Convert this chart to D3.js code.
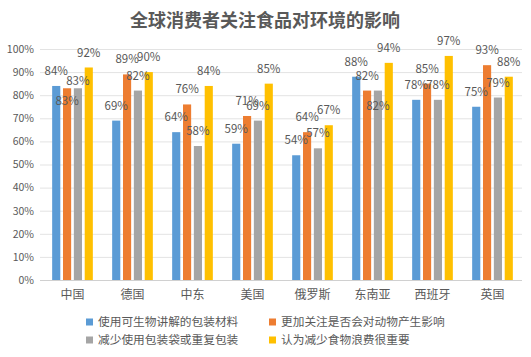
<!DOCTYPE html>
<html>
<head>
<meta charset="utf-8">
<script src="https://cdn.jsdelivr.net/npm/d3@7/dist/d3.min.js"></script>
<style>
  html, body { margin: 0; padding: 0; background: #fff; }
  svg { display: block; }
  text { font-family: "Noto Sans CJK SC", "Liberation Sans", sans-serif; fill: #595959; }
</style>
</head>
<body>
<script>
const title = "全球消费者关注食品对环境的影响";
const categories = ["中国", "德国", "中东", "美国", "俄罗斯", "东南亚", "西班牙", "英国"];
const seriesNames = ["使用可生物讲解的包装材料", "更加关注是否会对动物产生影响", "减少使用包装袋或重复包装", "认为减少食物浪费很重要"];
const biodegradable = [84, 69, 64, 59, 54, 88, 78, 75];
const animalImpact  = [83, 89, 76, 71, 64, 82, 85, 93];
const lessPackaging = [83, 82, 58, 69, 57, 82, 78, 79];
const foodWaste     = [92, 90, 84, 85, 67, 94, 97, 88];
const yTicks = [0, 10, 20, 30, 40, 50, 60, 70, 80, 90, 100];

const seriesValues = [biodegradable, animalImpact, lessPackaging, foodWaste];
const colors = ["#5B9BD5", "#ED7D31", "#A5A5A5", "#FFC000"];
// label placement tweaks (category|series -> vertical offset of label centre from bar top)
const labelOffset = { "中国|1": 13, "中国|2": -7, "东南亚|2": 15 };

const W = 531, H = 357;
const svg = d3.select("body").append("svg").attr("width", W).attr("height", H);

const gridX0 = 40, gridX1 = 522;
const x0 = d3.scaleBand().domain(categories).range([42.5, 522.5]).paddingInner(0.322).paddingOuter(0.161);
const x1 = d3.scaleBand().domain(d3.range(4)).range([0, x0.bandwidth()]).paddingInner(0.25).paddingOuter(0);
const y = d3.scaleLinear().domain([0, 100]).range([280, 49]);

// title
svg.append("text").attr("x", 265).attr("y", 27).attr("text-anchor", "middle")
  .style("font-size", "18px").style("font-weight", "bold").style("fill", "#595959").text(title);

// gridlines
svg.append("g").selectAll("line").data(yTicks).join("line")
  .attr("x1", gridX0).attr("x2", gridX1)
  .attr("y1", d => y(d) + 0.5).attr("y2", d => y(d) + 0.5)
  .attr("stroke", d => d === 0 ? "#D0D0D0" : "#E3E3E3").attr("stroke-width", 1);

// y axis labels
const yAxis = d3.axisLeft(y).tickValues(yTicks).tickFormat(d => d + "%").tickSize(0).tickPadding(0);
const ya = svg.append("g").attr("transform", "translate(34,0)").call(yAxis);
ya.select(".domain").remove();
ya.selectAll("text").style("font-size", "10.5px").style("fill", "#595959")
  .style("font-family", '"Noto Sans CJK SC", sans-serif');

// x axis labels
const xAxis = d3.axisBottom(x0).tickSize(0).tickPadding(0);
const xa = svg.append("g").attr("transform", "translate(0,290)").call(xAxis);
xa.select(".domain").remove();
xa.selectAll("text").style("font-size", "12px").style("fill", "#595959")
  .style("font-family", '"Noto Sans CJK SC", sans-serif');

// bars
const rows = [];
categories.forEach((c, ci) => seriesValues.forEach((s, si) => rows.push({ c, ci, si, v: s[ci] })));
svg.append("g").selectAll("rect").data(rows).join("rect")
  .attr("x", d => x0(d.c) + x1(d.si))
  .attr("width", x1.bandwidth())
  .attr("y", d => y(d.v))
  .attr("height", d => y(0) - y(d.v))
  .attr("fill", d => colors[d.si]);

// labels
svg.append("g").selectAll("text").data(rows).join("text")
  .attr("x", d => x0(d.c) + x1(d.si) + x1.bandwidth() / 2)
  .attr("y", d => y(d.v) + (labelOffset[d.c + "|" + d.si] !== undefined ? labelOffset[d.c + "|" + d.si] : -15))
  .attr("dy", "0.35em")
  .attr("text-anchor", "middle")
  .style("font-size", "11.5px").style("fill", "#595959")
  .text(d => d.v + "%");

// legend
const legendPos = [[86, 322], [269, 322], [86, 340], [269, 340]];
const lg = svg.append("g").selectAll("g").data(seriesNames).join("g")
  .attr("transform", (d, i) => `translate(${legendPos[i][0]},${legendPos[i][1]})`);
lg.append("rect").attr("x", 0).attr("y", -3.5).attr("width", 7).attr("height", 7).attr("fill", (d, i) => colors[i]);
lg.append("text").attr("x", 12).attr("y", 0).attr("dy", "0.35em")
  .style("font-size", "11.7px").style("fill", "#595959").text(d => d);
</script>
</body>
</html>
